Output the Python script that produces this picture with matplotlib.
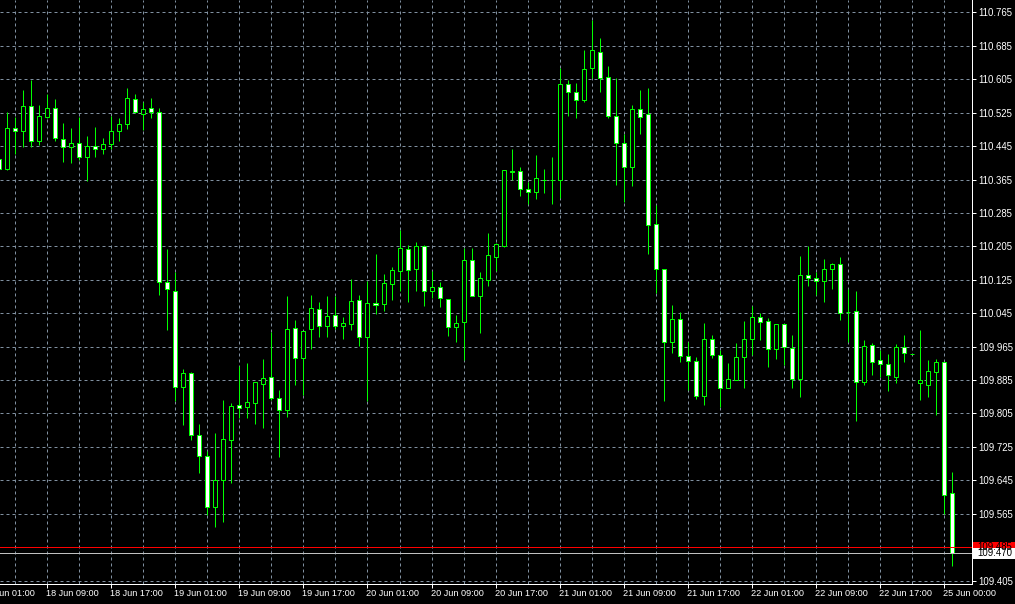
import matplotlib
matplotlib.use("Agg")
import matplotlib.pyplot as plt
from matplotlib.patches import Rectangle
from matplotlib.transforms import blended_transform_factory

plt.rcParams['font.family'] = ['Liberation Sans', 'DejaVu Sans']

# USDJPY H1 candles (index 0 = 18 Jun 03:00)
opens = [110.414, 110.390, 110.488, 110.480, 110.540, 110.458, 110.515, 110.535, 110.461, 110.442,
         110.452, 110.418, 110.445, 110.437, 110.449, 110.480, 110.497, 110.557, 110.521, 110.535,
         110.527, 110.119, 110.099, 109.868, 109.901, 109.753, 109.704, 109.582, 109.646, 109.742,
         109.825, 109.821, 109.829, 109.875, 109.892, 109.841, 109.813, 110.009, 109.937, 110.007,
         110.056, 110.014, 110.040, 110.014, 110.018, 110.076, 109.989, 110.069, 110.066, 110.114,
         110.145, 110.198, 110.150, 110.205, 110.098, 110.107, 110.078, 110.011, 110.023, 110.172,
         110.087, 110.125, 110.180, 110.207, 110.385, 110.385, 110.342, 110.334, 110.364, 110.364,
         110.364, 110.593, 110.574, 110.555, 110.631, 110.670, 110.610, 110.518, 110.452, 110.394,
         110.533, 110.523, 110.258, 110.150, 109.976, 110.031, 109.943, 109.931, 109.848, 109.983,
         109.945, 109.865, 109.885, 109.940, 109.983, 110.035, 110.026, 109.960, 110.019, 109.961,
         109.887, 110.136, 110.129, 110.123, 110.150, 110.162, 110.049, 110.050, 109.881, 109.969,
         109.933, 109.924, 109.893, 109.964, 109.947, 109.877, 109.872, 109.905, 109.929, 109.614]
highs = [110.430, 110.526, 110.514, 110.579, 110.603, 110.543, 110.569, 110.558, 110.500, 110.488,
         110.515, 110.469, 110.490, 110.464, 110.517, 110.512, 110.583, 110.570, 110.551, 110.560,
         110.535, 110.199, 110.143, 109.912, 109.904, 109.780, 109.714, 109.758, 109.837, 109.830,
         109.919, 109.926, 109.880, 109.935, 109.999, 109.861, 110.087, 110.029, 110.003, 110.089,
         110.071, 110.086, 110.086, 110.035, 110.126, 110.089, 110.121, 110.187, 110.139, 110.156,
         110.245, 110.208, 110.215, 110.208, 110.146, 110.119, 110.078, 110.041, 110.200, 110.200,
         110.144, 110.236, 110.212, 110.388, 110.438, 110.394, 110.360, 110.424, 110.390, 110.418,
         110.631, 110.603, 110.595, 110.675, 110.747, 110.703, 110.637, 110.607, 110.474, 110.543,
         110.579, 110.583, 110.304, 110.152, 110.065, 110.049, 109.977, 109.941, 110.022, 109.993,
         109.957, 109.925, 109.973, 110.027, 110.062, 110.046, 110.033, 110.019, 110.019, 109.993,
         110.182, 110.206, 110.144, 110.175, 110.166, 110.179, 110.102, 110.097, 109.981, 109.973,
         109.957, 109.947, 109.971, 109.993, 109.947, 110.005, 109.933, 109.935, 109.929, 109.666]
lows = [110.385, 110.388, 110.425, 110.442, 110.442, 110.448, 110.512, 110.456, 110.408, 110.404,
        110.412, 110.362, 110.420, 110.425, 110.437, 110.458, 110.486, 110.524, 110.484, 110.512,
        110.089, 110.005, 109.836, 109.778, 109.742, 109.663, 109.562, 109.534, 109.546, 109.639,
        109.794, 109.795, 109.780, 109.771, 109.837, 109.700, 109.796, 109.872, 109.850, 109.959,
        109.987, 109.989, 110.008, 109.984, 110.005, 109.967, 109.836, 110.043, 110.050, 110.077,
        110.097, 110.073, 110.099, 110.062, 110.081, 110.061, 109.991, 109.977, 109.932, 110.087,
        109.998, 110.111, 110.146, 110.203, 110.364, 110.326, 110.307, 110.318, 110.332, 110.307,
        110.320, 110.518, 110.512, 110.551, 110.607, 110.575, 110.512, 110.352, 110.310, 110.350,
        110.474, 110.187, 110.093, 109.836, 109.949, 109.927, 109.860, 109.839, 109.825, 109.937,
        109.821, 109.865, 109.885, 109.865, 109.945, 109.981, 109.917, 109.936, 109.921, 109.867,
        109.845, 110.109, 110.089, 110.073, 110.102, 110.029, 109.975, 109.788, 109.872, 109.896,
        109.893, 109.859, 109.879, 109.929, 109.947, 109.837, 109.845, 109.802, 109.564, 109.441]
closes = [110.390, 110.488, 110.480, 110.540, 110.457, 110.516, 110.535, 110.464, 110.442, 110.452,
          110.418, 110.445, 110.437, 110.450, 110.481, 110.497, 110.559, 110.526, 110.533, 110.526,
          110.119, 110.102, 109.868, 109.901, 109.753, 109.703, 109.582, 109.645, 109.743, 109.823,
          109.818, 109.832, 109.880, 109.889, 109.841, 109.813, 110.007, 109.937, 110.003, 110.057,
          110.014, 110.038, 110.014, 110.021, 110.074, 109.989, 110.069, 110.064, 110.117, 110.148,
          110.200, 110.148, 110.205, 110.098, 110.107, 110.081, 110.011, 110.021, 110.172, 110.087,
          110.129, 110.184, 110.210, 110.388, 110.384, 110.342, 110.334, 110.368, 110.365, 110.365,
          110.593, 110.574, 110.555, 110.629, 110.674, 110.609, 110.518, 110.452, 110.394, 110.533,
          110.515, 110.255, 110.150, 109.977, 110.031, 109.943, 109.931, 109.848, 109.983, 109.944,
          109.865, 109.887, 109.940, 109.983, 110.035, 110.025, 109.959, 110.019, 109.963, 109.887,
          110.136, 110.129, 110.122, 110.150, 110.162, 110.046, 110.048, 109.881, 109.967, 109.929,
          109.924, 109.896, 109.964, 109.949, 109.947, 109.885, 109.907, 109.929, 109.610, 109.470]

x_label_idx = [-2, 6, 14, 22, 30, 38, 46, 54, 62, 70, 78, 86, 94, 102, 110, 118]
x_labels = ['18 Jun 01:00', '18 Jun 09:00', '18 Jun 17:00', '19 Jun 01:00', '19 Jun 09:00',
            '19 Jun 17:00', '20 Jun 01:00', '20 Jun 09:00', '20 Jun 17:00', '21 Jun 01:00',
            '21 Jun 09:00', '21 Jun 17:00', '22 Jun 01:00', '22 Jun 09:00', '22 Jun 17:00',
            '25 Jun 00:00']
y_ticks = [110.765, 110.685, 110.605, 110.525, 110.445, 110.365, 110.285, 110.205, 110.125,
           110.045, 109.965, 109.885, 109.805, 109.725, 109.645, 109.565, 109.485, 109.405]
bid_price = 109.470
ask_price = 109.485

W, H = 1015, 604
fig = plt.figure(figsize=(W / 100, H / 100), dpi=100, facecolor='black')
ax_left, ax_bottom, ax_w, ax_h = 0.0, 20.5 / H, 971.5 / W, 583.5 / H
ax = fig.add_axes([ax_left, ax_bottom, ax_w, ax_h], facecolor='black')
ax.set_axisbelow(True)

LIME = '#00FF00'
lw = 0.72
body_w = 0.5
n = len(opens)
for i in range(n):
    o, h, l, c = opens[i], highs[i], lows[i], closes[i]
    ax.vlines(i, l, h, color=LIME, linewidth=lw, zorder=2)
    bottom = min(o, c)
    height = abs(c - o)
    face = 'white' if c < o else 'black'
    ax.add_patch(Rectangle((i - body_w / 2, bottom), body_w, height,
                           facecolor=face, edgecolor=LIME, linewidth=lw, zorder=3))

ax.set_xlim(0.0875, 121.46)
ax.set_ylim(109.398, 110.7947)

# price lines
ax.axhline(ask_price, color='red', linewidth=lw, zorder=4)
ax.axhline(bid_price, color='#C0C0C0', linewidth=lw, zorder=4)

# grid
grid_x = [v for v in range(2, n + 2, 4)]
ax.set_xticks([v for v in x_label_idx if v >= 0])
ax.set_xticklabels([])
ax.set_xticks(grid_x, minor=True)
ax.tick_params(axis='x', which='major', direction='out', length=3, color='white', width=lw)
ax.tick_params(axis='x', which='minor', length=0)
ax.set_yticks(y_ticks)
ax.set_yticklabels([f'{v:.3f}' for v in y_ticks])
ax.yaxis.tick_right()
ax.tick_params(axis='y', which='major', direction='out', length=3, color='white', width=lw,
               labelcolor='white', labelsize=6.9, pad=1.6)
ax.grid(True, axis='both', which='both', color='#8090A0', linestyle=(0, (3, 3)), linewidth=lw)

for s in ['top', 'left']:
    ax.spines[s].set_visible(False)
for s in ['right', 'bottom']:
    ax.spines[s].set_color('white')
    ax.spines[s].set_linewidth(lw)

for idx, lab in zip(x_label_idx, x_labels):
    ax.annotate(lab, xy=(idx, 0), xycoords=('data', 'axes fraction'), xytext=(-1, -5),
                textcoords='offset pixels', ha='left', va='top', color='white',
                fontsize=6.6, annotation_clip=False)

# price label boxes on the right axis
px_per_unit = ax_h * H / (110.7947 - 109.398)
box_h = 11 / px_per_unit
btr = blended_transform_factory(fig.transFigure, ax.transData)
x0 = (971.5 + 1) / W
for price, fc, tc in [(ask_price, 'red', 'black'), (bid_price, 'white', 'black')]:
    ax.add_patch(Rectangle((x0, price - box_h / 2), 1 - x0, box_h, transform=btr,
                           facecolor=fc, edgecolor='none', clip_on=False, zorder=10))
    ax.text(977 / W, price, f'{price:.3f}', transform=btr, ha='left', va='center',
            color=tc, fontsize=6.9, clip_on=False, zorder=11)

fig.savefig('out.png', dpi=100, facecolor='black')
